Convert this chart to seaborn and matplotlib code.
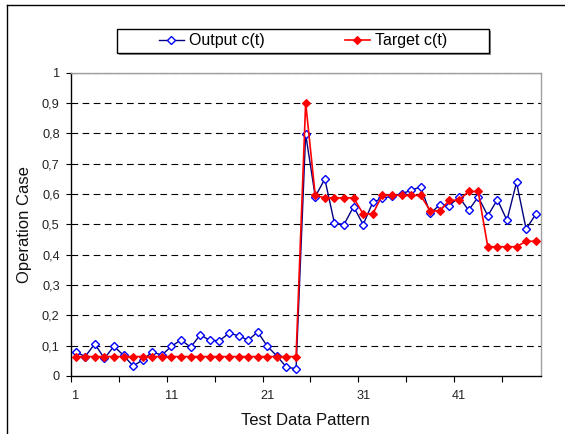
import matplotlib
matplotlib.use("Agg")
import matplotlib.pyplot as plt
from matplotlib.patches import Rectangle
from matplotlib.lines import Line2D
import seaborn as sns
import pandas as pd
import numpy as np

plt.rcParams['font.family'] = ['Liberation Sans', 'DejaVu Sans']

patterns = list(range(1, 50))
output_ct = [0.080, 0.064, 0.106, 0.058, 0.098, 0.068, 0.033, 0.053, 0.079, 0.069,
             0.098, 0.119, 0.095, 0.135, 0.118, 0.116, 0.141, 0.133, 0.118, 0.145,
             0.098, 0.066, 0.029, 0.024, 0.797, 0.591, 0.649, 0.504, 0.499, 0.558,
             0.499, 0.572, 0.586, 0.592, 0.600, 0.612, 0.623, 0.536, 0.564, 0.561,
             0.590, 0.546, 0.590, 0.528, 0.581, 0.513, 0.638, 0.484, 0.533]
target_ct = [0.064, 0.064, 0.064, 0.064, 0.064, 0.064, 0.064, 0.064, 0.064, 0.064,
             0.064, 0.064, 0.064, 0.064, 0.064, 0.064, 0.064, 0.064, 0.064, 0.064,
             0.064, 0.064, 0.064, 0.064, 0.900, 0.595, 0.587, 0.587, 0.587, 0.587,
             0.534, 0.534, 0.596, 0.596, 0.595, 0.595, 0.595, 0.544, 0.544, 0.579,
             0.579, 0.608, 0.608, 0.426, 0.426, 0.426, 0.426, 0.444, 0.444]
x_labels = ['1', '11', '21', '31', '41']
y_labels = ['0', '0,1', '0,2', '0,3', '0,4', '0,5', '0,6', '0,7', '0,8', '0,9', '1']
series_names = ['Output c(t)', 'Target c(t)']

df = pd.DataFrame({'Pattern': patterns, 'Output': output_ct, 'Target': target_ct})

W, H = 565, 434
fig = plt.figure(figsize=(W / 100, H / 100), dpi=100)
L, R, T, B = 70.8, 540.5, 72.5, 376.0
ax = fig.add_axes([L / W, 1 - B / H, (R - L) / W, (B - T) / H])

# outer chart border (cropped at right / bottom)
fig.add_artist(Line2D([7 / W, 7 / W], [1 - 5 / H, 0], transform=fig.transFigure,
                      color='black', lw=1.0))
fig.add_artist(Line2D([7 / W, 1], [1 - 5 / H, 1 - 5 / H], transform=fig.transFigure,
                      color='black', lw=1.0))

# gridlines
for v in np.arange(0.1, 1.0, 0.1):
    ax.axhline(v, color='black', lw=0.8, ls=(0, (6, 4)), zorder=0.5)
ax.axhline(1.0, color='#a0a0a0', lw=0.9, ls='-', zorder=0.4)
ax.axhline(1.0, color='#505050', lw=0.8, ls=(0, (6, 4)), zorder=0.5)

sns.lineplot(data=df, x='Pattern', y='Output', ax=ax, color='#000080', lw=1.0,
             marker='D', markersize=4.0, markerfacecolor='white',
             markeredgecolor='#0000FF', markeredgewidth=1.0, label=series_names[0],
             zorder=3)
sns.lineplot(data=df, x='Pattern', y='Target', ax=ax, color='#FF0000', lw=1.2,
             marker='D', markersize=3.8, markerfacecolor='#FF0000',
             markeredgecolor='#FF0000', markeredgewidth=0.8, label=series_names[1],
             zorder=4)

ax.set_xlim(0.5, 49.5)
ax.set_ylim(0, 1)

# ticks
ax.set_xticks(np.arange(0.5, 46, 5))
ax.set_xticklabels([])
ax.set_xticks([1, 11, 21, 31, 41], minor=True)
ax.set_xticklabels(x_labels, minor=True)
ax.tick_params(axis='x', which='major', direction='out', length=4.5, width=0.8, color='black')
ax.tick_params(axis='x', which='minor', length=0, pad=10, labelsize=9.2, labelcolor='#222222')

ax.set_yticks(np.arange(0, 1.01, 0.1))
ax.set_yticklabels(y_labels)
ax.tick_params(axis='y', direction='out', length=3.5, width=0.8, pad=4.5,
               labelsize=9.2, labelcolor='#222222')

for s in ['left', 'bottom']:
    ax.spines[s].set_color('black')
    ax.spines[s].set_linewidth(1.0)
for s in ['top', 'right']:
    ax.spines[s].set_color('#a0a0a0')
    ax.spines[s].set_linewidth(1.0)

ax.set_xlabel('Test Data Pattern', fontsize=12, color='#111111')
ax.set_ylabel('Operation Case', fontsize=12, color='#111111')
ax.xaxis.set_label_coords(0.5, (B - 413) / (B - T))
ax.yaxis.set_label_coords((32 - L) / (R - L), 0.5)

# legend
handles, labels = ax.get_legend_handles_labels()
if ax.get_legend():
    ax.get_legend().remove()
lx0, lx1, ly0, ly1 = 117, 489, 29, 53
fig.add_artist(Rectangle((lx0 / W + 1.5 / W, 1 - ly1 / H - 1.5 / H), (lx1 - lx0) / W, (ly1 - ly0) / H,
                         transform=fig.transFigure, facecolor='#909090', edgecolor='none', zorder=5))
fig.add_artist(Rectangle((lx0 / W, 1 - ly1 / H), (lx1 - lx0) / W, (ly1 - ly0) / H,
                         transform=fig.transFigure, facecolor='white', edgecolor='black',
                         lw=1.0, zorder=6))
leg = fig.legend(handles, labels, loc='center', bbox_to_anchor=(303 / W, 1 - 41 / H),
                 ncol=2, frameon=False, fontsize=11.5, handlelength=1.6,
                 handletextpad=0.3, columnspacing=5.0)
leg.set_zorder(7)

fig.savefig('out.png', dpi=100)
